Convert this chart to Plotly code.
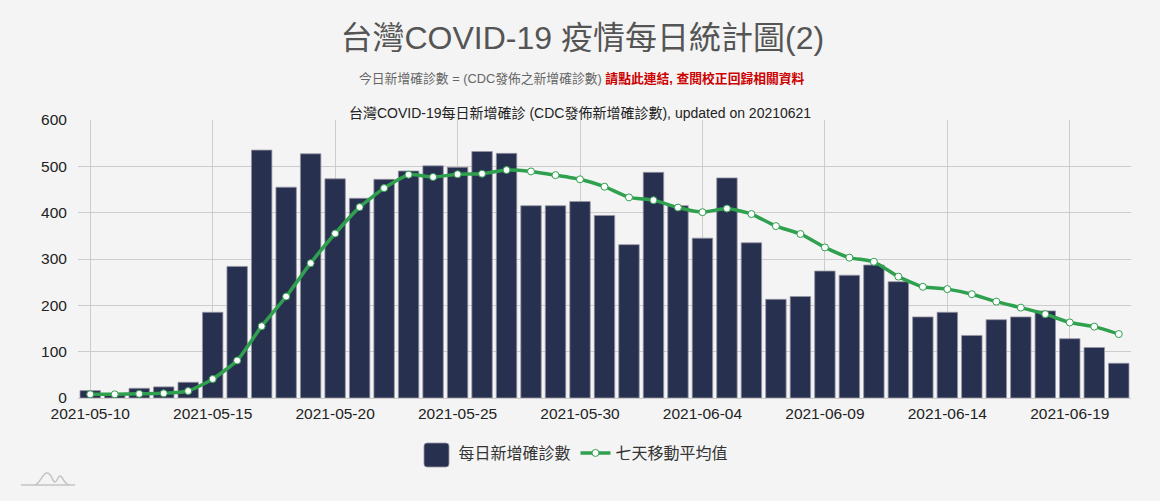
#!/usr/bin/env python3
"""台灣 COVID-19 每日新增確診 chart."""

import pandas as pd
import plotly.graph_objects as go

START_DATE = "2021-05-10"
END_DATE = "2021-06-21"

daily_cases = [
    16, 7, 21, 24, 34, 185, 284, 535, 455, 527, 473, 431, 472, 490, 501,
    498, 532, 528, 415, 415, 424, 394, 331, 487, 415, 345, 475, 335, 213,
    219, 274, 265, 287, 251, 175, 185, 135, 169, 175, 188, 128, 109, 75,
]
moving_avg = [
    8, 8, 9, 10, 15, 41, 81, 155, 219, 291, 355, 412, 453, 482, 477,
    483, 484, 492, 489, 481, 472, 456, 433, 427, 411, 401, 409, 397, 371,
    354, 325, 303, 294, 262, 240, 235, 224, 208, 195, 181, 163, 154, 138,
]
dates = [d.strftime("%Y-%m-%d") for d in pd.date_range(START_DATE, END_DATE)]
tick_dates = dates[::5]
y_ticks = [0, 100, 200, 300, 400, 500, 600]

BG = "#f4f4f4"
GRID = "#cccccc"
NAVY = "#28304f"
GREEN = "#2fa04e"
FONT = "Liberation Sans, Arial, Noto Sans CJK TC, sans-serif"

fig = go.Figure()

fig.add_trace(go.Bar(
    x=dates,
    y=daily_cases,
    name="每日新增確診數",
    showlegend=False,
    marker=dict(color=NAVY, line=dict(color="rgba(150,150,165,0.8)", width=1)),
))
# 圖例用 (無邊框)
fig.add_trace(go.Bar(
    x=[None],
    y=[None],
    name="每日新增確診數",
    marker=dict(color=NAVY, line=dict(width=0)),
))
fig.add_trace(go.Scatter(
    x=dates,
    y=moving_avg,
    name="七天移動平均值",
    mode="lines+markers",
    line=dict(color=GREEN, width=3.5, shape="spline", smoothing=0.5),
    marker=dict(color="white", size=7, line=dict(color=GREEN, width=1)),
))

fig.update_layout(
    width=1160,
    height=501,
    margin=dict(l=78, r=29, t=120, b=103),
    paper_bgcolor=BG,
    plot_bgcolor=BG,
    font=dict(family=FONT, size=15.5, color="#222222"),
    barmode="overlay",
    bargap=0.165,
    title=dict(
        text="台灣COVID-19 疫情每日統計圖(2)",
        x=0.502, xanchor="center", y=0.925, yanchor="middle",
        font=dict(size=32, color="#555555"),
    ),
    legend=dict(
        orientation="h",
        x=0.4729, xanchor="center",
        y=-0.198, yanchor="middle",
        font=dict(size=16, color="#333333"),
        bgcolor="rgba(0,0,0,0)",
    ),
)

# 副標題與圖表標題
fig.add_annotation(
    text='今日新增確診數 = (CDC發佈之新增確診數) '
         '<span style="color:#cc0000"><b>請點此連結, 查閱校正回歸相關資料</b></span>',
    xref="paper", yref="paper", x=0.4787, y=1.151, yanchor="middle", showarrow=False,
    font=dict(size=12.8, color="#666666"),
)
fig.add_annotation(
    text="台灣COVID-19每日新增確診 (CDC發佈新增確診數), updated on 20210621",
    xref="paper", yref="paper", x=0.4767, y=1.025, yanchor="middle",
    showarrow=False, font=dict(size=14, color="#222222"),
)

fig.update_xaxes(
    type="category",
    categoryorder="array",
    categoryarray=dates,
    range=[-0.5, 42.5],
    tickmode="array",
    tickvals=tick_dates,
    ticktext=tick_dates,
    tickangle=0,
    showgrid=True,
    gridcolor=GRID,
    gridwidth=1,
    ticks="outside",
    ticklen=1,
    tickcolor="rgba(0,0,0,0)",
    showline=True,
    linecolor=GRID,
    zeroline=False,
)
fig.update_yaxes(
    range=[0, 600],
    tickmode="array",
    tickvals=y_ticks,
    showgrid=True,
    gridcolor=GRID,
    gridwidth=1,
    ticks="outside",
    ticklen=7,
    tickcolor="rgba(0,0,0,0)",
    zeroline=False,
)

# 圖例方塊放大
fig.add_shape(
    type="path",
    xref="paper", yref="paper",
    xsizemode="pixel", ysizemode="pixel", xanchor=0, yanchor=0,
    path="M 349 -45 L 368 -45 Q 371 -45 371 -48 L 371 -66 Q 371 -69 368 -69 "
         "L 349 -69 Q 346 -69 346 -66 L 346 -48 Q 346 -45 349 -45 Z",
    fillcolor=NAVY,
    line=dict(color="rgba(150,150,165,0.8)", width=1),
)

# 左下角小圖示
fig.add_shape(
    type="path",
    xref="paper", yref="paper",
    xsizemode="pixel", ysizemode="pixel", xanchor=0, yanchor=0,
    path="M -57 -87 L -3 -87 M -44 -87 C -38 -87 -36 -75 -31 -75 C -26 -75 -26 -84 -23 -84 "
         "C -21 -84 -20 -78 -18 -78 C -15 -78 -14 -87 -8 -87",
    line=dict(color="#c4c4c4", width=1.5),
)

fig.write_html(
    "out.html",
    config={"displayModeBar": False},
    post_script="document.body.style.margin = '0';",
)
